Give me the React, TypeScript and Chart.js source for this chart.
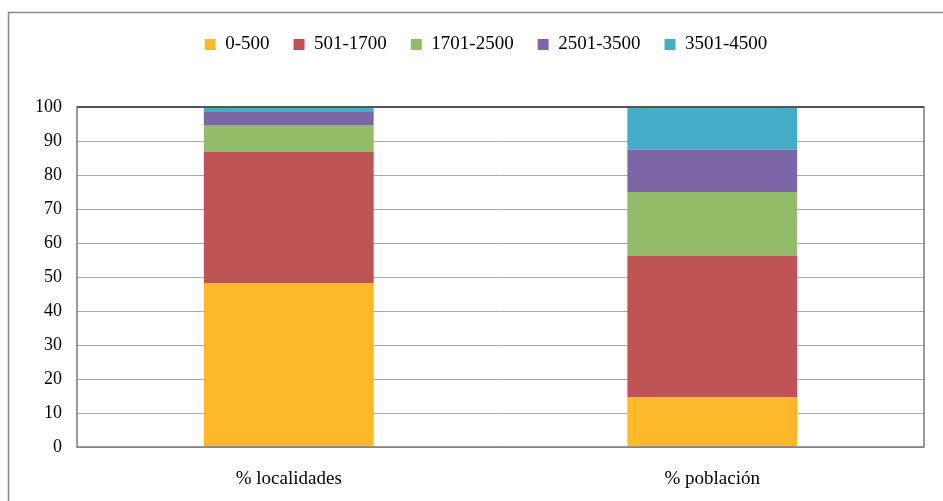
import React, { useEffect, useRef } from "react";
import { Chart, registerables } from "chart.js";

Chart.register(...registerables);

const categories = ["% localidades", "% población"];
const seriesNames = ["0-500", "501-1700", "1701-2500", "2501-3500", "3501-4500"];
const s0_500 = [48.2, 14.7];
const s501_1700 = [38.6, 41.5];
const s1701_2500 = [7.9, 18.8];
const s2501_3500 = [3.8, 12.4];
const s3501_4500 = [1.5, 12.6];
const seriesColors = ["#FDB92A", "#BE5554", "#92BC68", "#7D66A8", "#45ACC8"];
const yTicks = [0, 10, 20, 30, 40, 50, 60, 70, 80, 90, 100];

const FONT = '"Liberation Serif", "Times New Roman", serif';

const framePlugin = {
  id: "frame",
  beforeDraw(chart: any) {
    const ctx = chart.ctx;
    ctx.save();
    ctx.strokeStyle = "#8a8a8a";
    ctx.lineWidth = 1.5;
    ctx.strokeRect(8.5, 12.5, 1200, 1200);
    ctx.restore();
  },
  afterDatasetsDraw(chart: any) {
    const { ctx, chartArea } = chart;
    ctx.save();
    ctx.strokeStyle = "#7a7a7a";
    ctx.lineWidth = 1.5;
    ctx.strokeRect(chartArea.left, chartArea.top, chartArea.right - chartArea.left, chartArea.bottom - chartArea.top);
    ctx.strokeStyle = "#404040";
    ctx.beginPath();
    ctx.moveTo(chartArea.left, chartArea.top);
    ctx.lineTo(chartArea.right, chartArea.top);
    ctx.stroke();
    ctx.restore();
  },
};

export default function App() {
  const ref = useRef<HTMLCanvasElement | null>(null);
  useEffect(() => {
    if (!ref.current) return;
    const all = [s0_500, s501_1700, s1701_2500, s2501_3500, s3501_4500];
    const chart = new Chart(ref.current, {
      type: "bar",
      data: {
        labels: categories,
        datasets: all.map((d, i) => ({
          label: seriesNames[i],
          data: d,
          backgroundColor: seriesColors[i],
          borderWidth: 0,
          barPercentage: 0.401,
          categoryPercentage: 1,
        })),
      },
      plugins: [framePlugin],
      options: {
        responsive: false,
        animation: false,
        layout: { padding: { left: 48, right: 19, top: 11, bottom: 0 } },
        plugins: {
          tooltip: { enabled: false },
          legend: {
            position: "top",
            labels: {
              boxWidth: 11,
              boxHeight: 11,
              padding: 24,
              color: "#000",
              font: { family: FONT, size: 19 },
            },
          },
          title: {
            display: true,
            text: "",
            weight: 500,
            font: { size: 10, lineHeight: 1 },
            padding: { top: 0, bottom: 33 },
          } as any,
        },
        scales: {
          x: {
            stacked: true,
            grid: { display: false, drawTicks: false },
            border: { display: false },
            ticks: { color: "#000", font: { family: FONT, size: 19 }, padding: 21 },
            afterFit: (s: any) => {
              s.height = 54;
            },
          },
          y: {
            stacked: true,
            min: 0,
            max: 100,
            afterBuildTicks: (s: any) => {
              s.ticks = yTicks.map((v) => ({ value: v }));
            },
            grid: { color: "#ababab", lineWidth: 1, drawTicks: false },
            border: { display: false },
            ticks: {
              color: "#000",
              font: { family: FONT, size: 18 },
              mirror: true,
              crossAlign: "far",
              padding: -42,
            },
            afterFit: (s: any) => {
              s.width = 29;
            },
          },
        },
      },
    });
    return () => chart.destroy();
  }, []);
  return (
    <div style={{ position: "absolute", left: 0, top: 0, width: 943, height: 501, background: "#fff" }}>
      <canvas ref={ref} width={943} height={501} style={{ display: "block" }} />
    </div>
  );
}
